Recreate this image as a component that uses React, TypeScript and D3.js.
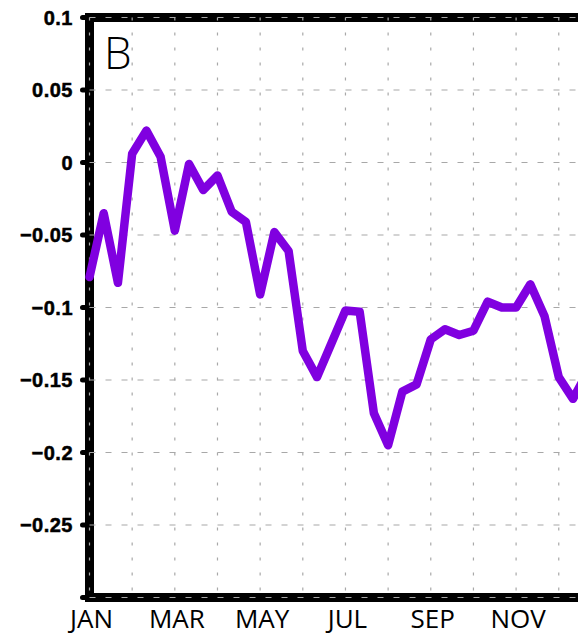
import React from "react";
import * as d3 from "d3";

const values: number[] = [
  -0.079, -0.035, -0.083, 0.006, 0.022, 0.004, -0.047, -0.001, -0.019, -0.009,
  -0.034, -0.041, -0.091, -0.048, -0.061, -0.13, -0.148, -0.125, -0.102, -0.103,
  -0.173, -0.195, -0.158, -0.153, -0.122, -0.115, -0.119, -0.116, -0.096, -0.1,
  -0.1, -0.084, -0.106, -0.148, -0.163, -0.145,
];
const monthLabels: string[] = ["JAN", "MAR", "MAY", "JUL", "SEP", "NOV"];
const yTicks: number[] = [0.1, 0.05, 0, -0.05, -0.1, -0.15, -0.2, -0.25];
const yGrid: number[] = [0.1, 0.05, 0, -0.05, -0.1, -0.15, -0.2, -0.25, -0.3];
const panelLabel = "B";

const W = 578;
const H = 636;
const left = 89.5;
const step = 14.22;
const top = 17.5;
const bottom = 597.5;

export default function App() {
  const x = d3.scaleLinear().domain([0, 36]).range([left, left + 36 * step]);
  const y = d3.scaleLinear().domain([-0.3, 0.1]).range([bottom, top]);
  const line = d3
    .line<number>()
    .x((_, i) => x(i))
    .y((d) => y(d));
  const monthIdx = d3.range(0, 37, 3);
  const fmt = (v: number) => {
    if (v === 0) return "0";
    return (v < 0 ? "\u2212" : "") + String(Math.abs(v));
  };
  const x0 = x(0);
  const x1 = x(36);
  return (
    <svg
      width={W}
      height={H}
      style={{ position: "absolute", left: 0, top: 0, background: "#fff" }}
    >
      <defs>
        <clipPath id="plot">
          <rect x={0} y={0} width={W} height={H} />
        </clipPath>
      </defs>
      {yGrid.map((v) => (
        <line
          key={"t" + v}
          x1={x0 - 7}
          x2={x0}
          y1={y(v)}
          y2={y(v)}
          stroke="#000"
          strokeWidth={5}
          strokeLinecap="round"
        />
      ))}
      <rect
        x={x0}
        y={top}
        width={x1 - x0}
        height={bottom - top}
        fill="none"
        stroke="#000"
        strokeWidth={9}
      />
      {yGrid.map((v) => (
        <line
          key={"gy" + v}
          x1={x0}
          x2={x1}
          y1={y(v)}
          y2={y(v)}
          stroke="#a8a8a8"
          strokeWidth={1.2}
          strokeDasharray="6,10"
        />
      ))}
      {monthIdx.map((i) => (
        <line
          key={"gx" + i}
          x1={x(i)}
          x2={x(i)}
          y1={top}
          y2={bottom}
          stroke="#a8a8a8"
          strokeWidth={1.2}
          strokeDasharray="3,12"
        />
      ))}
      <path
        d={line(values) || ""}
        fill="none"
        stroke="#8000e0"
        strokeWidth={8.5}
        strokeLinejoin="round"
        strokeLinecap="round"
        clipPath="url(#plot)"
      />
      {yTicks.map((v) => (
        <text
          key={"ly" + v}
          x={73}
          y={y(v)}
          textAnchor="end"
          dominantBaseline="central"
          fontFamily="Liberation Sans, Arial, sans-serif"
          fontWeight="bold"
          fontSize={20}
          letterSpacing={0.5}
          stroke="#000"
          strokeWidth={0.5}
        >
          {fmt(v)}
        </text>
      ))}
      {monthLabels.map((m, k) => (
        <text
          key={m}
          x={x(k * 6) + 2}
          y={628}
          textAnchor="middle"
          fontFamily="Liberation Sans Narrow, Open Sans, sans-serif"
          fontSize={26}
        >
          {m}
        </text>
      ))}
      <text
        x={104}
        y={69}
        fontFamily="Open Sans, sans-serif"
        fontSize={44}
        fontWeight={300}
      >
        {panelLabel}
      </text>
    </svg>
  );
}
